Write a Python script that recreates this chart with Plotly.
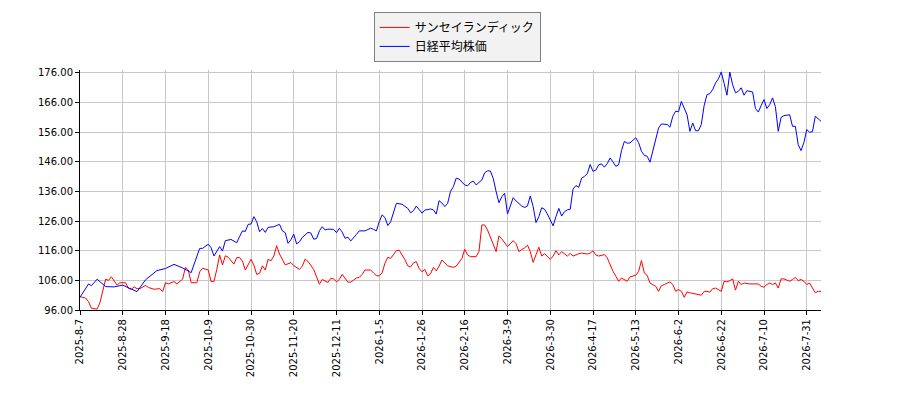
import plotly.graph_objects as go

# trading-day index (0 = 2025-8-7) and prices
tick_idx = [0, 15, 30, 45, 60, 75, 90, 105, 120, 135, 150, 165, 180, 195, 210, 225, 240, 255]
tick_text = ["2025-8-7", "2025-8-28", "2025-9-18", "2025-10-9", "2025-10-30", "2025-11-20",
             "2025-12-11", "2026-1-5", "2026-1-26", "2026-2-16", "2026-3-9", "2026-3-30",
             "2026-4-17", "2026-5-13", "2026-6-2", "2026-6-22", "2026-7-10", "2026-7-31"]

sansei_idx = [0, 2, 3, 4, 6, 7, 9, 10, 11, 12, 13, 14, 16, 17, 18, 19, 20, 21, 23, 24,
              26, 28, 29, 30, 31, 33, 34, 36, 37, 38, 39, 41, 42, 43, 45, 46, 47, 48, 49, 50,
              51, 52, 54, 55, 56, 57, 58, 60, 61, 62, 63, 64, 65, 66, 67, 68, 69, 70, 71, 72,
              74, 75, 77, 78, 79, 80, 82, 83, 84, 85, 87, 88, 89, 90, 91, 92, 93, 94, 95, 97,
              98, 99, 100, 102, 103, 104, 105, 106, 107, 108, 109, 110, 111, 112, 113, 114, 115, 116, 117, 118,
              119, 120, 121, 122, 123, 124, 125, 126, 127, 128, 129, 131, 132, 134, 135, 136, 137, 139, 140, 141,
              142, 143, 144, 145, 146, 147, 148, 150, 151, 152, 153, 154, 155, 156, 157, 158, 159, 160, 161, 162,
              163, 165, 166, 167, 168, 169, 171, 172, 173, 175, 176, 178, 179, 180, 181, 182, 184, 185, 186, 187,
              188, 189, 190, 191, 192, 193, 195, 196, 197, 198, 199, 200, 201, 202, 203, 204, 205, 207, 208, 209,
              210, 211, 212, 213, 214, 216, 217, 218, 219, 220, 221, 222, 223, 224, 225, 226, 227, 228, 229, 230,
              231, 232, 233, 235, 238, 239, 240, 241, 242, 243, 244, 245, 246, 247, 249, 250, 251, 252, 253, 254,
              255, 256, 257, 258, 259, 260]
sansei_val = [100.5, 100.0, 98.8, 96.6, 96.3, 98.5, 106.4, 106.0, 107.2, 105.8, 104.4, 105.2, 105.2, 103.3, 103.0, 103.8, 103.2, 103.2, 104.3, 103.6,
              103.0, 103.2, 102.2, 105.2, 104.8, 105.6, 104.8, 106.4, 110.4, 109.5, 105.2, 105.2, 108.9, 110.1, 109.5, 105.6, 105.6, 109.7, 114.6, 111.2,
              114.3, 113.8, 111.5, 113.7, 113.7, 112.5, 109.5, 113.1, 111.2, 108.0, 108.4, 110.9, 109.5, 113.1, 112.6, 114.2, 117.7, 114.9, 113.1, 111.2,
              112.0, 111.0, 109.7, 110.8, 113.2, 112.4, 109.7, 107.2, 104.7, 106.3, 105.3, 106.7, 106.5, 105.5, 106.3, 108.0, 106.7, 105.4, 105.4, 106.8,
              107.0, 108.0, 109.5, 109.5, 108.5, 107.6, 107.5, 108.5, 111.8, 113.8, 113.4, 114.6, 116.0, 116.2, 114.6, 113.0, 110.9, 110.5, 111.9, 112.3,
              110.0, 108.9, 109.7, 107.5, 108.2, 110.4, 109.2, 110.8, 112.9, 111.9, 110.9, 110.4, 110.8, 113.4, 116.5, 114.6, 114.0, 114.0, 115.8, 124.7,
              124.7, 123.0, 120.5, 118.5, 115.7, 121.0, 120.0, 117.4, 118.4, 119.4, 118.4, 115.7, 116.4, 116.9, 117.9, 115.7, 112.1, 114.9, 117.2, 114.2,
              115.0, 113.1, 114.2, 116.0, 114.6, 115.7, 114.2, 115.1, 114.2, 115.0, 115.2, 114.9, 115.2, 116.0, 114.6, 114.2, 114.7, 113.6, 111.3, 109.1,
              107.4, 105.7, 106.8, 106.3, 105.7, 107.2, 107.7, 109.0, 112.7, 108.5, 107.7, 105.1, 104.6, 104.0, 102.3, 104.2, 104.6, 105.5, 104.6, 102.3,
              102.9, 102.3, 100.3, 102.1, 101.8, 101.4, 101.1, 101.0, 102.3, 102.3, 102.0, 103.2, 103.4, 102.9, 102.3, 105.7, 105.5, 105.9, 106.5, 102.7,
              105.7, 104.6, 105.1, 104.8, 104.8, 104.0, 103.7, 104.6, 105.1, 104.6, 105.1, 103.4, 106.5, 106.5, 105.7, 106.3, 107.0, 105.9, 106.3, 105.7,
              104.6, 105.1, 103.2, 101.8, 102.3, 102.3]

nikkei_idx = [0, 3, 4, 6, 9, 12, 15, 18, 20, 23, 27, 30, 33, 36, 39, 42, 43, 45, 46, 47,
              48, 49, 50, 51, 53, 55, 56, 57, 58, 59, 60, 61, 62, 63, 64, 65, 66, 68, 70, 71,
              72, 73, 74, 75, 76, 77, 78, 80, 81, 82, 83, 84, 85, 86, 87, 89, 90, 91, 92, 93,
              94, 95, 97, 98, 100, 102, 103, 104, 105, 106, 107, 108, 109, 110, 111, 113, 115, 116, 117, 118,
              119, 120, 121, 123, 124, 125, 126, 127, 128, 129, 130, 131, 132, 133, 135, 136, 137, 138, 139, 141,
              142, 143, 144, 145, 146, 147, 148, 149, 150, 151, 152, 153, 155, 156, 157, 158, 159, 160, 161, 162,
              163, 164, 165, 166, 167, 168, 169, 170, 171, 172, 173, 174, 175, 176, 177, 178, 179, 180, 181, 182,
              183, 184, 185, 186, 187, 188, 189, 190, 191, 192, 193, 194, 195, 196, 197, 198, 199, 200, 201, 202,
              203, 204, 206, 207, 208, 209, 210, 211, 212, 213, 214, 215, 216, 217, 218, 219, 220, 221, 222, 223,
              224, 225, 226, 227, 228, 229, 230, 231, 232, 233, 234, 236, 237, 238, 239, 240, 241, 242, 243, 244,
              245, 246, 247, 249, 250, 251, 252, 253, 254, 255, 256, 257, 258, 259, 260]
nikkei_val = [100.3, 104.8, 104.2, 106.4, 103.9, 103.8, 104.4, 103.0, 102.2, 106.2, 109.3, 110.0, 111.4, 110.2, 108.6, 116.8, 116.8, 118.2, 117.0, 114.2,
              115.8, 117.4, 115.9, 119.4, 119.8, 118.7, 120.8, 122.7, 122.5, 124.9, 125.0, 127.5, 125.8, 122.4, 123.5, 122.2, 123.9, 124.1, 124.9, 122.7,
              122.1, 118.5, 119.7, 121.6, 118.3, 119.0, 120.5, 122.2, 122.0, 119.9, 120.1, 122.7, 124.1, 123.0, 123.3, 123.2, 122.1, 123.6, 122.3, 120.2,
              120.6, 119.3, 121.5, 122.7, 122.7, 123.6, 123.2, 122.7, 125.8, 128.1, 127.2, 124.5, 125.8, 128.8, 132.0, 131.7, 130.3, 128.8, 129.5, 131.1,
              130.0, 128.7, 129.7, 130.1, 129.8, 128.4, 132.9, 132.1, 130.9, 132.0, 136.0, 137.6, 140.5, 140.2, 138.2, 137.9, 139.0, 139.5, 138.2, 139.9,
              142.3, 143.0, 142.9, 140.4, 136.0, 132.2, 134.2, 135.4, 128.4, 131.5, 133.9, 132.8, 131.1, 130.6, 131.1, 134.5, 130.9, 125.5, 127.5, 130.5,
              130.0, 128.4, 126.1, 124.4, 127.5, 130.3, 127.7, 129.2, 129.8, 130.0, 136.8, 138.0, 137.4, 140.5, 141.1, 142.0, 145.1, 142.8, 143.2, 145.0,
              145.3, 144.2, 145.4, 147.3, 146.0, 144.5, 145.0, 149.8, 152.9, 152.3, 152.4, 153.2, 154.1, 152.5, 149.6, 148.2, 147.9, 145.9, 149.6, 153.5,
              157.4, 158.8, 158.6, 157.7, 161.4, 163.1, 162.9, 166.4, 164.3, 161.9, 156.3, 159.1, 156.5, 156.5, 158.6, 165.0, 168.7, 169.0, 170.4, 172.6,
              174.0, 176.3, 172.5, 168.5, 176.3, 172.0, 169.3, 169.8, 171.0, 168.5, 170.0, 169.6, 164.0, 162.8, 165.0, 167.0, 164.0, 165.3, 167.6, 164.6,
              156.3, 161.0, 161.6, 161.9, 158.0, 158.0, 151.8, 149.8, 152.5, 156.9, 156.0, 156.2, 161.4, 160.5, 159.7]

fig = go.Figure()
fig.add_trace(go.Scatter(x=sansei_idx, y=sansei_val, mode="lines",
                         line=dict(color="red", width=1), name="サンセイランディック"))
fig.add_trace(go.Scatter(x=nikkei_idx, y=nikkei_val, mode="lines",
                         line=dict(color="blue", width=1), name="日経平均株価"))

axis_font = dict(family="DejaVu Sans", size=10, color="black")
fig.update_layout(
    width=900, height=400,
    # page body adds an 8px offset, so margins are shifted to compensate
    margin=dict(l=72, r=87, t=62, b=98, autoexpand=False),
    paper_bgcolor="white", plot_bgcolor="white",
    showlegend=True,
    legend=dict(x=0.509, y=1.242, xanchor="center", yanchor="top",
                bgcolor="#f2f2f2", bordercolor="#808080", borderwidth=1,
                font=dict(family="Noto Sans CJK JP", size=12, color="black"),
                tracegroupgap=0),
)
fig.update_xaxes(range=[0, 260], tickmode="array", tickvals=tick_idx, ticktext=tick_text,
                 tickangle=-90, tickfont=axis_font, showgrid=True, gridcolor="#c8c8c8",
                 gridwidth=1, zeroline=False, showline=True, linecolor="black", linewidth=1,
                 ticks="outside", ticklen=4, tickcolor="black")
fig.update_yaxes(range=[96, 177], tickmode="array", tickvals=list(range(96, 177, 10)),
                 tickformat=".2f", tickfont=axis_font, showgrid=True, gridcolor="#c8c8c8",
                 gridwidth=1, zeroline=False, showline=True, linecolor="black", linewidth=1,
                 ticks="outside", ticklen=4, tickcolor="black")

fig.write_html("out.html")
